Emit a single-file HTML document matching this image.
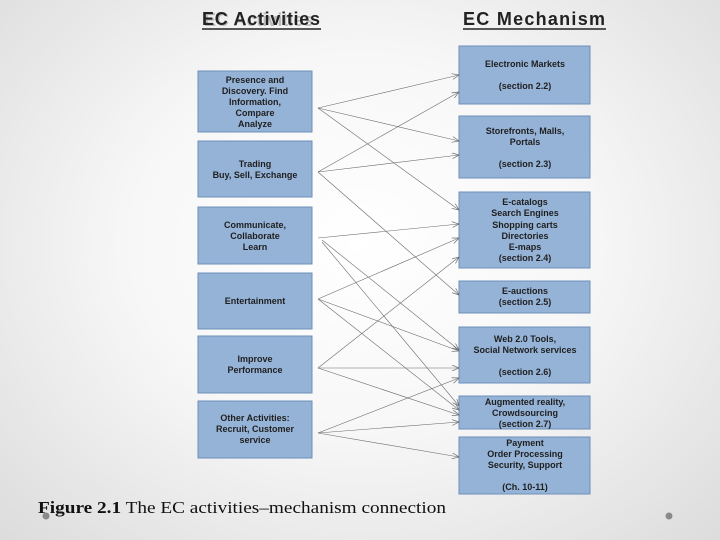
<!DOCTYPE html>
<html><head><meta charset="utf-8"><style>
html,body{margin:0;padding:0;width:720px;height:540px;overflow:hidden}
body{background:radial-gradient(ellipse at 50% 45%,#ffffff 0%,#f7f7f7 45%,#dcdcdc 100%)}
svg{position:absolute;left:0;top:0}
.b{fill:#95b3d7;stroke:#6f8fb8;stroke-width:1}
.t{font-family:"Liberation Sans",sans-serif;font-size:9px;font-weight:bold;fill:#1f1f1f;text-anchor:middle}
.l{stroke:#6b6b6b;stroke-width:0.6;fill:none;marker-end:url(#a)}
</style></head><body>
<svg width="720" height="540" viewBox="0 0 720 540">
<defs><marker id="a" markerWidth="8" markerHeight="6" refX="7" refY="3" orient="auto" markerUnits="userSpaceOnUse"><path d="M0,0 L7,3 L0,6" fill="none" stroke="#6b6b6b" stroke-width="0.7"/></marker></defs>
<g font-family="Liberation Sans,sans-serif" font-weight="bold" font-size="18" fill="#222">
<text x="203" y="25" fill="#bbb" dx="1" dy="1">EC Activities</text>
<text x="202" y="25" textLength="118">EC Activities</text>
<line x1="202" y1="29" x2="321" y2="29" stroke="#222" stroke-width="1.5"/>
<text x="463" y="25" textLength="142">EC Mechanism</text>
<line x1="463" y1="29" x2="606" y2="29" stroke="#222" stroke-width="1.5"/>
</g>
<rect class="b" x="198" y="71" width="114" height="61"/>
<rect class="b" x="198" y="141" width="114" height="56"/>
<rect class="b" x="198" y="207" width="114" height="57"/>
<rect class="b" x="198" y="273" width="114" height="56"/>
<rect class="b" x="198" y="336" width="114" height="57"/>
<rect class="b" x="198" y="401" width="114" height="57"/>
<rect class="b" x="459" y="46" width="131" height="58"/>
<rect class="b" x="459" y="116" width="131" height="62"/>
<rect class="b" x="459" y="192" width="131" height="76"/>
<rect class="b" x="459" y="281" width="131" height="32"/>
<rect class="b" x="459" y="327" width="131" height="56"/>
<rect class="b" x="459" y="396" width="131" height="33"/>
<rect class="b" x="459" y="437" width="131" height="57"/>
<g class="t">
<text x="255" y="83">Presence and</text><text x="255" y="94">Discovery. Find</text><text x="255" y="105">Information,</text><text x="255" y="116">Compare</text><text x="255" y="127">Analyze</text>
<text x="255" y="167">Trading</text><text x="255" y="178">Buy, Sell, Exchange</text>
<text x="255" y="228">Communicate,</text><text x="255" y="239">Collaborate</text><text x="255" y="250">Learn</text>
<text x="255" y="304">Entertainment</text>
<text x="255" y="362">Improve</text><text x="255" y="373">Performance</text>
<text x="255" y="421">Other Activities:</text><text x="255" y="432">Recruit, Customer</text><text x="255" y="443">service</text>
<text x="525" y="67">Electronic Markets</text><text x="525" y="89">(section 2.2)</text>
<text x="525" y="134">Storefronts, Malls,</text><text x="525" y="145">Portals</text><text x="525" y="167">(section 2.3)</text>
<text x="525" y="205">E-catalogs</text><text x="525" y="216">Search Engines</text><text x="525" y="228">Shopping carts</text><text x="525" y="239">Directories</text><text x="525" y="250">E-maps</text><text x="525" y="261">(section 2.4)</text>
<text x="525" y="294">E-auctions</text><text x="525" y="305">(section 2.5)</text>
<text x="525" y="342">Web 2.0 Tools,</text><text x="525" y="353">Social Network services</text><text x="525" y="375">(section 2.6)</text>
<text x="525" y="405">Augmented reality,</text><text x="525" y="416">Crowdsourcing</text><text x="525" y="427">(section 2.7)</text>
<text x="525" y="446">Payment</text><text x="525" y="457">Order Processing</text><text x="525" y="468">Security, Support</text><text x="525" y="490">(Ch. 10-11)</text>
</g>
<g class="l">
<path d="M318,108 L459,75"/><path d="M318,108 L459,141"/><path d="M318,108 L459,210"/>
<path d="M318,172 L459,92"/><path d="M318,172 L459,155"/><path d="M318,172 L459,295"/>
<path d="M318,238 L459,224"/><path d="M322,240 L459,350"/><path d="M322,242 L459,406"/>
<path d="M318,299 L459,238"/><path d="M318,299 L459,351"/><path d="M318,299 L459,410"/>
<path d="M318,368 L459,257"/><path d="M318,368 L459,368"/><path d="M318,368 L459,415"/>
<path d="M318,433 L459,378"/><path d="M318,433 L459,422"/><path d="M318,433 L459,457"/>
</g>
<text x="38" y="513" font-family="Liberation Serif,serif" font-size="17" fill="#111" textLength="408" lengthAdjust="spacingAndGlyphs"><tspan font-weight="bold">Figure 2.1</tspan> The EC activities–mechanism connection</text>
<circle cx="46" cy="516" r="3.5" fill="#8a8a8a"/>
<circle cx="669" cy="516" r="3.5" fill="#8a8a8a"/>
</svg>
</body></html>
